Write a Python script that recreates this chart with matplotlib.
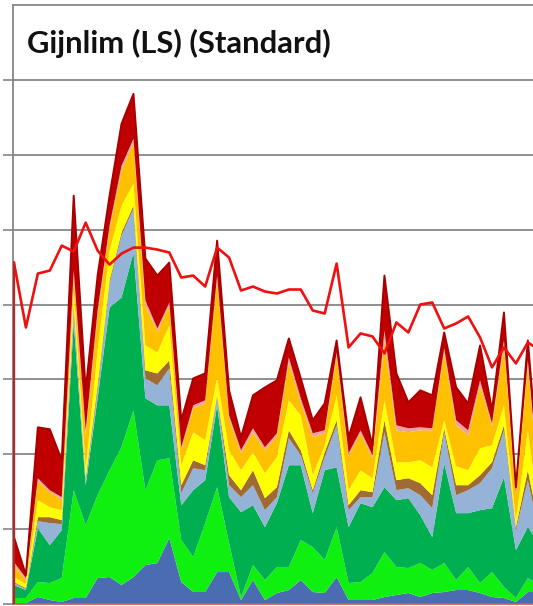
import numpy as np
import matplotlib
matplotlib.use("Agg")
import matplotlib.pyplot as plt

title = "Gijnlim (LS) (Standard)"
periods = list(range(45))

# stacked series, bottom to top
blue =        [1, 1, 7, 4, 2, 6, 6, 26, 27, 19, 27, 39, 41, 66, 22, 12, 12, 32, 32, 4, 24, 4, 11, 14, 24, 12, 11, 27, 4, 4, 4, 7, 9, 11, 7, 11, 12, 14, 14, 11, 7, 6, 2, 12, 12]
bright_green = [5, 5, 15, 17, 24, 108, 73, 83, 107, 138, 167, 75, 103, 80, 42, 35, 69, 85, 29, 3, 15, 20, 26, 23, 40, 45, 33, 50, 17, 18, 27, 45, 28, 25, 34, 23, 29, 10, 23, 10, 25, 11, 4, 14, 7]
green =       [13, 8, 54, 38, 48, 168, 40, 97, 163, 150, 158, 92, 55, 53, 35, 67, 43, 82, 46, 85, 60, 53, 64, 102, 75, 34, 90, 60, 56, 79, 66, 65, 67, 70, 48, 33, 100, 67, 54, 73, 64, 110, 48, 51, 40]
light_blue =  [2, 1, 7, 22, 6, 12, 5, 8, 24, 62, 44, 20, 20, 37, 12, 22, 10, 8, 12, 15, 20, 17, 6, 27, 10, 20, 13, 42, 17, 6, 10, 55, 10, 10, 20, 29, 31, 18, 23, 27, 40, 47, 20, 47, 10]
brown =       [1, 1, 4, 6, 4, 5, 2, 5, 3, 3, 3, 8, 12, 8, 8, 8, 5, 2, 10, 7, 15, 12, 10, 8, 5, 3, 5, 5, 5, 7, 5, 12, 10, 10, 12, 13, 4, 10, 5, 8, 6, 5, 3, 10, 5]
yellow =      [5, 4, 17, 10, 10, 15, 10, 35, 30, 27, 22, 25, 21, 35, 20, 28, 25, 18, 25, 20, 18, 25, 30, 30, 35, 15, 7, 25, 15, 20, 14, 20, 18, 16, 23, 28, 8, 19, 15, 27, 17, 20, 7, 40, 10]
orange =      [12, 4, 19, 15, 11, 15, 33, 35, 22, 35, 41, 40, 21, 20, 15, 24, 37, 97, 32, 17, 20, 23, 21, 38, 13, 38, 12, 40, 34, 37, 20, 60, 32, 30, 30, 37, 68, 41, 35, 63, 19, 60, 25, 65, 25]
pink =        [3, 2, 3, 2, 2, 5, 5, 5, 3, 5, 4, 5, 3, 3, 3, 3, 3, 5, 3, 3, 4, 3, 3, 5, 4, 4, 3, 3, 3, 3, 3, 10, 5, 4, 3, 2, 4, 5, 5, 5, 3, 5, 3, 5, 5]
dark_red =    [25, 3, 51, 61, 37, 75, 40, 35, 30, 42, 45, 42, 53, 40, 27, 27, 27, 35, 25, 13, 33, 60, 53, 19, 20, 13, 27, 12, 16, 33, 10, 55, 52, 26, 37, 33, 16, 33, 27, 35, 13, 28, 5, 20, 5]

# line series
red_line = [342, 277, 331, 334, 359, 353, 382, 354, 340, 351, 357, 357, 355, 352, 327, 329, 318, 357, 347, 314, 318, 313, 311, 315, 315, 294, 291, 341, 257, 271, 268, 251, 282, 272, 300, 302, 276, 281, 288, 267, 237, 257, 241, 262, 254]

series = [blue, bright_green, green, light_blue, brown, yellow, orange, pink, dark_red]
colors = ["#4A6DB2", "#10F010", "#00B050", "#95B3D7", "#A06A35",
          "#FFFF00", "#FFC000", "#EBA3A3", "#C00000"]

W, H = 533, 606
fig = plt.figure(figsize=(W / 100, H / 100), dpi=100)
ax = fig.add_axes([13 / W, 2 / H, (W - 13) / W, 599 / H])

x = np.array(periods)
ax.stackplot(x, *series, colors=colors, linewidth=0, zorder=2)
top = np.sum(np.array(series), axis=0)
ax.plot(x, top, color="#A80000", lw=1.4, zorder=3)

ax.plot(x, red_line, color="#F01010", lw=1.9, zorder=4)
ax.vlines(x[0], 0, red_line[0], color="#C02020", lw=1.6, zorder=4)

ax.set_xlim(-0.08, 43.43)
ax.set_ylim(0, 600)

grid_color = "#868686"
for v in range(75, 600, 75):
    ax.axhline(v, color=grid_color, lw=1.3, zorder=1)

ax.set_yticks(range(0, 600, 75))
ax.set_yticklabels([])
ax.set_xticks([])
ax.tick_params(axis="y", direction="out", length=7, width=1.2, color=grid_color)

ax.spines["right"].set_visible(False)
ax.spines["left"].set_color(grid_color)
ax.spines["left"].set_linewidth(1.3)
ax.spines["top"].set_color(grid_color)
ax.spines["top"].set_linewidth(1.3)
ax.spines["bottom"].set_color("#C06060")
ax.spines["bottom"].set_linewidth(1.3)

fig.text(27 / W, 1 - 43 / H, title, ha="left", va="center",
         fontsize=22.3, fontweight="bold", family=["Lato", "DejaVu Sans"], color="#111111")

fig.savefig("out.png", dpi=100)
